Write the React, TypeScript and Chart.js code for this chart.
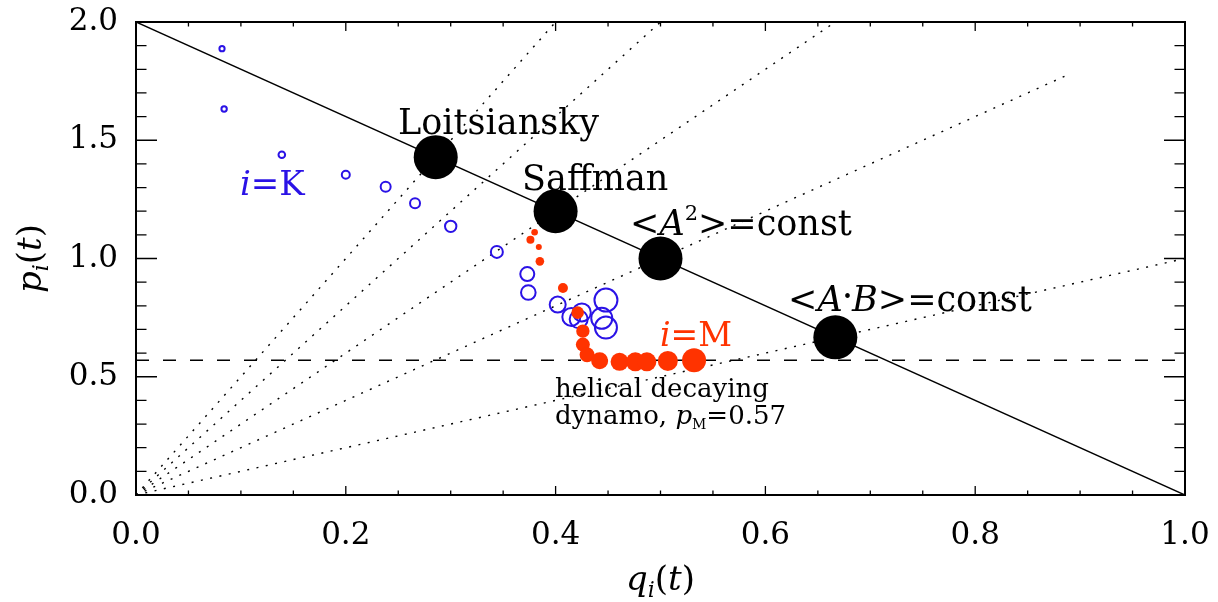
import React, { useEffect, useRef } from "react";
import { Chart, registerables } from "chart.js";

Chart.register(...registerables);

// ---------- data ----------
const xTickValues = [0, 0.2, 0.4, 0.6, 0.8, 1.0];
const yTickValues = [0, 0.5, 1.0, 1.5, 2.0];

// kinetic (i=K) open blue circles
const kQ = [0.082, 0.084, 0.139, 0.2, 0.238, 0.266, 0.3, 0.344, 0.373, 0.374, 0.402, 0.415, 0.422, 0.425, 0.448, 0.444, 0.448];
const kP = [1.887, 1.632, 1.439, 1.354, 1.303, 1.234, 1.136, 1.028, 0.934, 0.856, 0.805, 0.753, 0.743, 0.772, 0.824, 0.747, 0.708];
const kSize = [2.6, 2.7, 3.3, 4, 5, 5, 5.7, 6, 7, 7.3, 8, 9, 9, 9, 11.5, 10.5, 11];

// magnetic (i=M) filled red dots
const mQ = [0.38, 0.376, 0.384, 0.385, 0.407, 0.421, 0.426, 0.426, 0.43, 0.442, 0.461, 0.476, 0.487, 0.507, 0.532];
const mP = [1.111, 1.079, 1.049, 0.988, 0.875, 0.771, 0.693, 0.636, 0.593, 0.568, 0.563, 0.563, 0.563, 0.567, 0.57];
const mSize = [3.3, 4, 3, 4.3, 5, 6.3, 6.7, 7, 7.5, 8.5, 9, 9.5, 9.5, 10, 12];

// special invariants on the line p = 2(1-q)
const specialNames = ["Loitsiansky", "Saffman", "<A2>=const", "<A.B>=const"];
const specialQ = [2 / 7, 0.4, 0.5, 2 / 3];
const specialP = [10 / 7, 1.2, 1.0, 2 / 3];

// dotted reference lines through the origin
const dottedSlopes = [5, 4, 3, 2, 1];
const dottedEndQ = [0.4, 0.5, 2 / 3, 0.89, 1.0];

const pM = 0.57;

// ---------- styling ----------
const FONT = '"DejaVu Serif", serif';
const BLUE = "#2a12e6";
const RED = "#ff3300";

type Seg = { t: string; size: number; italic?: boolean; dy?: number };

function fontOf(s: Seg) {
  return `${s.italic ? "italic " : ""}${s.size}px ${FONT}`;
}

function drawRich(ctx: CanvasRenderingContext2D, segs: Seg[], x: number, y: number, align: "left" | "center" = "left") {
  let w = 0;
  for (const s of segs) {
    ctx.font = fontOf(s);
    w += ctx.measureText(s.t).width;
  }
  let cx = align === "center" ? x - w / 2 : x;
  ctx.textAlign = "left";
  ctx.textBaseline = "alphabetic";
  for (const s of segs) {
    ctx.font = fontOf(s);
    ctx.fillText(s.t, cx, y + (s.dy || 0));
    cx += ctx.measureText(s.t).width;
  }
}

const annotations: { q: number; p: number; color: string; segs: Seg[] }[] = [
  { q: 0.2498, p: 1.527, color: "#000", segs: [{ t: "Loitsiansky", size: 35 }] },
  { q: 0.368, p: 1.29, color: "#000", segs: [{ t: "Saffman", size: 35 }] },
  {
    q: 0.471,
    p: 1.1,
    color: "#000",
    segs: [
      { t: "<", size: 35 },
      { t: "A", size: 35, italic: true },
      { t: "2", size: 21, dy: -15 },
      { t: ">=const", size: 35 },
    ],
  },
  {
    q: 0.6216,
    p: 0.776,
    color: "#000",
    segs: [
      { t: "<", size: 35 },
      { t: "A", size: 35, italic: true },
      { t: "•", size: 16, dy: -9 },
      { t: "B", size: 35, italic: true },
      { t: ">=const", size: 35 },
    ],
  },
  {
    q: 0.0991,
    p: 1.27,
    color: BLUE,
    segs: [
      { t: "i", size: 34, italic: true },
      { t: "=K", size: 34 },
    ],
  },
  {
    q: 0.4995,
    p: 0.631,
    color: RED,
    segs: [
      { t: "i", size: 33, italic: true },
      { t: "=M", size: 33 },
    ],
  },
  { q: 0.3994, p: 0.415, color: "#000", segs: [{ t: "helical decaying", size: 26 }] },
  {
    q: 0.3994,
    p: 0.299,
    color: "#000",
    segs: [
      { t: "dynamo, ", size: 26 },
      { t: "p", size: 26, italic: true },
      { t: "M", size: 14, dy: 5 },
      { t: "=0.57", size: 26 },
    ],
  },
];

const framePlugin = {
  id: "idlFrame",
  afterDatasetsDraw(chart: any) {
    const { ctx, chartArea: a, scales } = chart;
    const xs = scales.x;
    const ys = scales.y;
    ctx.save();
    // annotations
    for (const an of annotations) {
      ctx.fillStyle = an.color;
      drawRich(ctx, an.segs, xs.getPixelForValue(an.q), ys.getPixelForValue(an.p));
    }
    // frame
    ctx.strokeStyle = "#000";
    ctx.lineWidth = 2;
    ctx.strokeRect(a.left, a.top, a.right - a.left, a.bottom - a.top);
    // inward ticks
    ctx.lineWidth = 1.3;
    ctx.beginPath();
    for (let i = 0; i <= 20; i++) {
      const v = i * 0.05;
      const major = i % 4 === 0;
      const len = major ? 9 : 4.5;
      const px = xs.getPixelForValue(v);
      ctx.moveTo(px, a.bottom);
      ctx.lineTo(px, a.bottom - len);
      ctx.moveTo(px, a.top);
      ctx.lineTo(px, a.top + len);
    }
    for (let i = 0; i <= 20; i++) {
      const v = i * 0.1;
      const major = i % 5 === 0;
      const len = major ? 21 : 10.5;
      const py = ys.getPixelForValue(v);
      ctx.moveTo(a.left, py);
      ctx.lineTo(a.left + len, py);
      ctx.moveTo(a.right, py);
      ctx.lineTo(a.right - len, py);
    }
    ctx.stroke();
    // axis titles
    ctx.fillStyle = "#000";
    drawRich(
      ctx,
      [
        { t: "q", size: 34, italic: true },
        { t: "i", size: 22, italic: true, dy: 7 },
        { t: "(", size: 34 },
        { t: "t", size: 34, italic: true },
        { t: ")", size: 34 },
      ],
      (a.left + a.right) / 2,
      590,
      "center"
    );
    ctx.save();
    ctx.translate(41, (a.top + a.bottom) / 2);
    ctx.rotate(-Math.PI / 2);
    drawRich(
      ctx,
      [
        { t: "p", size: 34, italic: true },
        { t: "i", size: 22, italic: true, dy: 7 },
        { t: "(", size: 34 },
        { t: "t", size: 34, italic: true },
        { t: ")", size: 34 },
      ],
      0,
      0,
      "center"
    );
    ctx.restore();
    ctx.restore();
  },
};

function zeroPadding(s: any) {
  s.paddingTop = 0;
  s.paddingBottom = 0;
  s.paddingLeft = 0;
  s.paddingRight = 0;
}

export default function App() {
  const ref = useRef<HTMLCanvasElement | null>(null);

  useEffect(() => {
    document.body.style.margin = "0";
    const canvas = ref.current;
    if (!canvas) return;

    const dottedSets = dottedSlopes.map((s, i) => ({
      type: "scatter" as const,
      data: [
        { x: 0, y: 0 },
        { x: dottedEndQ[i], y: s * dottedEndQ[i] },
      ],
      showLine: true,
      borderColor: "#000",
      borderWidth: 1.4,
      borderDash: [2, 7.5],
      pointRadius: 0,
      order: 5,
    }));

    const chart = new Chart(canvas, {
      type: "scatter",
      data: {
        datasets: [
          {
            data: specialQ.map((q, i) => ({ x: q, y: specialP[i], name: specialNames[i] })),
            pointRadius: 22,
            pointBackgroundColor: "#000",
            pointBorderWidth: 0,
            borderColor: "#000",
            order: 0,
          },
          {
            data: mQ.map((q, i) => ({ x: q, y: mP[i] })),
            pointRadius: mSize,
            pointBackgroundColor: RED,
            pointBorderWidth: 0,
            borderColor: RED,
            order: 1,
          },
          {
            data: kQ.map((q, i) => ({ x: q, y: kP[i] })),
            pointRadius: kSize,
            pointBackgroundColor: "rgba(0,0,0,0)",
            pointBorderColor: BLUE,
            pointBorderWidth: 2,
            order: 2,
          },
          {
            data: [
              { x: 0, y: 2 },
              { x: 1, y: 0 },
            ],
            showLine: true,
            borderColor: "#000",
            borderWidth: 1.5,
            pointRadius: 0,
            order: 3,
          },
          {
            data: [
              { x: 0, y: pM },
              { x: 1, y: pM },
            ],
            showLine: true,
            borderColor: "#000",
            borderWidth: 1.5,
            borderDash: [13, 14],
            pointRadius: 0,
            order: 4,
          },
          ...dottedSets,
        ] as any,
      },
      options: {
        animation: false,
        responsive: false,
        maintainAspectRatio: false,
        layout: { padding: { left: 0, right: 33, top: 13, bottom: 0 } },
        plugins: {
          legend: { display: false },
          tooltip: { enabled: false },
        },
        scales: {
          x: {
            type: "linear",
            min: 0,
            max: 1,
            grid: { display: false, drawTicks: false },
            border: { display: false },
            afterBuildTicks: (s: any) => {
              s.ticks = xTickValues.map((v) => ({ value: v }));
            },
            afterFit: (s: any) => {
              s.height = 107;
              zeroPadding(s);
            },
            ticks: {
              padding: 22,
              color: "#000",
              font: { family: FONT, size: 31 },
              callback: (v: any) => Number(v).toFixed(1),
              maxRotation: 0,
            },
          },
          y: {
            type: "linear",
            min: 0,
            max: 2,
            grid: { display: false, drawTicks: false },
            border: { display: false },
            afterBuildTicks: (s: any) => {
              s.ticks = yTickValues.map((v) => ({ value: v }));
            },
            afterFit: (s: any) => {
              s.width = 136;
              zeroPadding(s);
            },
            ticks: {
              padding: 18,
              color: "#000",
              font: { family: FONT, size: 31 },
              callback: (v: any) => Number(v).toFixed(1),
            },
          },
        },
      } as any,
      plugins: [framePlugin],
    });

    return () => chart.destroy();
  }, []);

  return (
    <div style={{ width: 1218, height: 602, background: "#fff" }}>
      <canvas ref={ref} width={1218} height={602} style={{ display: "block", width: 1218, height: 602 }} />
    </div>
  );
}
